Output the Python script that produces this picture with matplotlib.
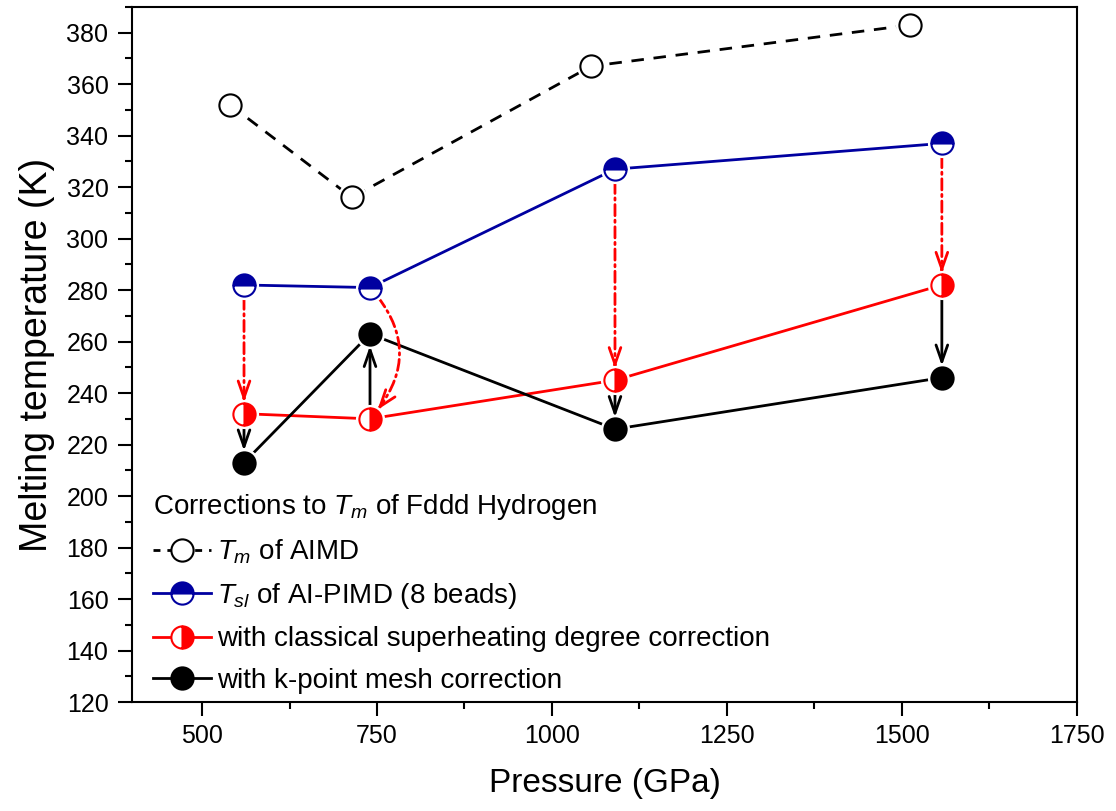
import math

import matplotlib

matplotlib.use("Agg")

import matplotlib.pyplot as plt
from matplotlib.lines import Line2D
from matplotlib.patches import FancyArrowPatch
from matplotlib.ticker import MultipleLocator

# data
p_aimd = [540, 714, 1056, 1512]
t_aimd = [352, 316, 367, 383]

p_corr = [560, 740, 1090, 1557]
t_pimd = [282, 281, 327, 337]
t_superheat = [232, 230, 245, 282]
t_kpoint = [213, 263, 226, 246]

labels = [
    r"$T_m$ of AIMD",
    r"$T_{sl}$ of AI-PIMD (8 beads)",
    "with classical superheating degree correction",
    "with k-point mesh correction",
]
legend_title = r"Corrections to $T_m$ of Fddd Hydrogen"

BLUE = "#0000a0"
RED = "#ff0000"
BLACK = "#000000"

plt.rcParams["font.family"] = ["Liberation Sans", "DejaVu Sans"]
plt.rcParams["mathtext.fontset"] = "custom"
plt.rcParams["mathtext.rm"] = "Liberation Sans"
plt.rcParams["mathtext.it"] = "Liberation Sans:italic"

MS = 16
LW = 2.0
MEW = 1.5
SHRINK_A = 9.5
SHRINK_B = 8.5
HEAD = "->,head_length=0.8,head_width=0.28"


def series(ax, x, y, color, ls, fill, face, alt):
    ax.plot(x, y, color=color, ls=ls, lw=LW, zorder=2)
    # white halo gives the small gap between line and marker
    ax.plot(x, y, ls="none", marker="o", ms=MS + 5, mfc="white", mec="none", zorder=3)
    ax.plot(x, y, ls="none", marker="o", ms=MS, fillstyle=fill, mfc=face,
            mfcalt=alt, mec=color, mew=MEW, zorder=4)


def arrow(ax, x, y0, y1, color, ls="-", rad=0.0):
    conn = f"arc3,rad={rad}"
    if ls == "-":
        ax.add_patch(FancyArrowPatch((x, y0), (x, y1), arrowstyle=HEAD, mutation_scale=15,
                                     shrinkA=SHRINK_A, shrinkB=SHRINK_B, color=color, lw=LW,
                                     connectionstyle=conn, zorder=2.5))
        return
    # dashed shaft, then a solid head drawn over the last bit of the path
    ax.add_patch(FancyArrowPatch((x, y0), (x, y1), arrowstyle="-", shrinkA=SHRINK_A,
                                 shrinkB=SHRINK_B + 2, color=color, lw=LW, ls=ls,
                                 connectionstyle=conn, zorder=2.5))
    xa, ya = ax.transData.transform((x, y0))
    xb, yb = ax.transData.transform((x, y1))
    dist = math.hypot(xb - xa, yb - ya) * 72 / ax.figure.dpi
    ax.add_patch(FancyArrowPatch((x, y0), (x, y1), arrowstyle=HEAD, mutation_scale=15,
                                 shrinkA=dist - SHRINK_B - 3, shrinkB=SHRINK_B, color=color,
                                 lw=LW, connectionstyle=conn, zorder=2.5))


fig = plt.figure(figsize=(11.16, 8.11), dpi=100)
ax = fig.add_axes([0.1183, 0.1344, 0.8467, 0.857])
ax.set_xlim(400, 1750)
ax.set_ylim(120, 390)

series(ax, p_aimd, t_aimd, BLACK, (0, (4.5, 3.5)), "full", "white", "white")
series(ax, p_corr, t_pimd, BLUE, "-", "top", BLUE, "white")
series(ax, p_corr, t_superheat, RED, "-", "right", RED, "white")
series(ax, p_corr, t_kpoint, BLACK, "-", "full", BLACK, BLACK)

dashdot = (0, (4, 1.6, 0.8, 1.6))
for i, p in enumerate(p_corr):
    rad = -0.45 if i == 1 else 0.0
    arrow(ax, p, t_pimd[i], t_superheat[i], RED, dashdot, rad)
    arrow(ax, p, t_superheat[i], t_kpoint[i], BLACK)

ax.xaxis.set_major_locator(MultipleLocator(250))
ax.xaxis.set_minor_locator(MultipleLocator(125))
ax.yaxis.set_major_locator(MultipleLocator(20))
ax.yaxis.set_minor_locator(MultipleLocator(10))
ax.tick_params(which="both", direction="out", width=1.5, labelsize=18, top=False, right=False)
ax.tick_params(which="major", length=10)
ax.tick_params(which="minor", length=5)
ax.tick_params(axis="y", pad=7)
ax.tick_params(axis="x", pad=6)
for sp in ax.spines.values():
    sp.set_linewidth(1.5)

ax.set_xlabel("Pressure (GPa)", fontsize=24, labelpad=14)
ax.set_ylabel("Melting temperature (K)", fontsize=27, labelpad=8)

handles = [
    Line2D([], [], color=BLACK, ls=(0, (2.5, 2.5)), lw=LW, marker="o", ms=MS, mfc="white", mec=BLACK, mew=MEW),
    Line2D([], [], color=BLUE, lw=LW, marker="o", ms=MS, fillstyle="top", mfc=BLUE, mfcalt="white", mec=BLUE, mew=MEW),
    Line2D([], [], color=RED, lw=LW, marker="o", ms=MS, fillstyle="right", mfc=RED, mfcalt="white", mec=RED, mew=MEW),
    Line2D([], [], color=BLACK, lw=LW, marker="o", ms=MS, mfc=BLACK, mec=BLACK, mew=MEW),
]
leg = ax.legend(handles, labels, title=legend_title, loc="lower left",
                bbox_to_anchor=(0.022, 0.012), borderaxespad=0, borderpad=0,
                frameon=False, fontsize=20, title_fontsize=20, handlelength=2.1,
                handletextpad=0.2, labelspacing=0.55, alignment="left")

fig.savefig("out.png", dpi=100)
